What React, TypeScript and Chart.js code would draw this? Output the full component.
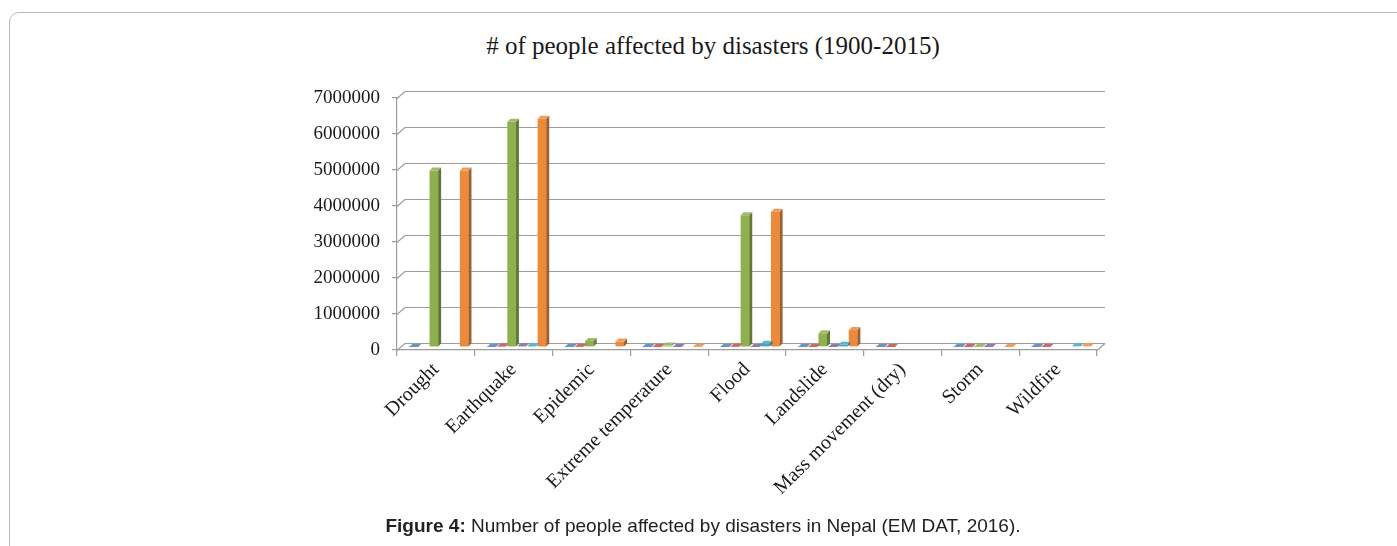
import React, { useEffect, useRef } from "react";
import { Chart, registerables } from "chart.js";

Chart.register(...registerables);

const chartTitle = "# of people affected by disasters (1900-2015)";

const categories = [
  "Drought",
  "Earthquake",
  "Epidemic",
  "Extreme temperature",
  "Flood",
  "Landslide",
  "Mass movement (dry)",
  "Storm",
  "Wildfire",
];

const seriesNames = ["Events", "Deaths", "Affected", "Injured", "Homeless", "Total affected"];
const seriesColors = ["#4F81BD", "#C0504D", "#8FB04F", "#8064A2", "#3FA6C2", "#EC8A3C"];

const events = [5, 8, 40, 10, 50, 80, 1, 5, 1];
const deaths = [0, 11000, 3500, 300, 6800, 1900, 2, 60, 2];
const affected = [4900000, 6260000, 170000, 40000, 3660000, 380000, 0, 900, 0];
const injured = [0, 22000, 0, 200, 500, 300, 0, 100, 0];
const homeless = [0, 30000, 0, 0, 90000, 60000, 0, 0, 20000];
const totalAffected = [4900000, 6340000, 150000, 8000, 3760000, 470000, 0, 1000, 25000];

const seriesValues = [events, deaths, affected, injured, homeless, totalAffected];

const yTickValues = [0, 1000000, 2000000, 3000000, 4000000, 5000000, 6000000, 7000000];

const DX = 8;
const DY = 7;
const BX = 3;
const BY = 3;
const SHIFT = 3;

function shade(hex: string, f: number) {
  const n = parseInt(hex.slice(1), 16);
  let r = (n >> 16) & 255, g = (n >> 8) & 255, b = n & 255;
  if (f < 1) {
    r = Math.round(r * f); g = Math.round(g * f); b = Math.round(b * f);
  } else {
    const t = f - 1;
    r = Math.round(r + (255 - r) * t); g = Math.round(g + (255 - g) * t); b = Math.round(b + (255 - b) * t);
  }
  return `rgb(${r},${g},${b})`;
}

const wallPlugin = {
  id: "wall3d",
  beforeDatasetsDraw(chart: any) {
    const { ctx, chartArea, scales } = chart;
    const { left, right, bottom } = chartArea;
    const y = scales.y;
    ctx.save();
    ctx.strokeStyle = "#9c9c9c";
    ctx.lineWidth = 1.2;
    yTickValues.forEach((v) => {
      const py = Math.round(y.getPixelForValue(v)) + 0.5;
      ctx.beginPath();
      ctx.moveTo(left, py);
      ctx.lineTo(left + DX, py - DY);
      ctx.lineTo(right + DX, py - DY);
      ctx.stroke();
    });
    ctx.beginPath();
    ctx.moveTo(right, bottom + 0.5);
    ctx.lineTo(right + DX, bottom - DY + 0.5);
    ctx.stroke();
    ctx.restore();
  },
  beforeDatasetDraw(chart: any) {
    chart.ctx.save();
    chart.ctx.translate(SHIFT, -SHIFT);
  },
  afterDatasetDraw(chart: any) {
    chart.ctx.restore();
  },
  afterDatasetsDraw(chart: any) {
    const { ctx } = chart;
    ctx.save();
    ctx.translate(SHIFT, -SHIFT);
    chart.data.datasets.forEach((ds: any, di: number) => {
      const meta = chart.getDatasetMeta(di);
      const color = seriesColors[di];
      meta.data.forEach((bar: any, i: number) => {
        const v = ds.data[i];
        if (!v) return;
        const { x, y, base, width } = bar.getProps(["x", "y", "base", "width"], true);
        const l = x - width / 2;
        const r = x + width / 2;
        ctx.fillStyle = shade(color, 0.68);
        ctx.beginPath();
        ctx.moveTo(r, base);
        ctx.lineTo(r + BX, base - BY);
        ctx.lineTo(r + BX, y - BY);
        ctx.lineTo(r, y);
        ctx.closePath();
        ctx.fill();
        ctx.fillStyle = shade(color, 1.15);
        ctx.beginPath();
        ctx.moveTo(l, y);
        ctx.lineTo(l + BX, y - BY);
        ctx.lineTo(r + BX, y - BY);
        ctx.lineTo(r, y);
        ctx.closePath();
        ctx.fill();
      });
    });
    ctx.restore();
  },
};

export default function App() {
  const canvasRef = useRef<HTMLCanvasElement | null>(null);

  useEffect(() => {
    if (!canvasRef.current) return;
    const chart = new Chart(canvasRef.current, {
      type: "bar",
      data: {
        labels: categories,
        datasets: seriesNames.map((name, i) => ({
          label: name,
          data: seriesValues[i],
          backgroundColor: seriesColors[i],
          borderWidth: 0,
          categoryPercentage: 0.78,
          barPercentage: 0.85,
        })),
      },
      options: {
        responsive: false,
        animation: false,
        layout: { padding: { left: 297, right: 300, top: 98, bottom: 0 } },
        plugins: {
          legend: { display: false },
          tooltip: { enabled: false },
          title: { display: false },
        },
        scales: {
          x: {
            grid: {
              display: true,
              drawOnChartArea: false,
              drawTicks: true,
              tickLength: 6,
              color: "#9c9c9c",
              lineWidth: 1.2,
              offset: true,
            },
            border: { display: true, color: "#9c9c9c", width: 1.2 },
            ticks: {
              minRotation: 45,
              maxRotation: 45,
              autoSkip: false,
              padding: 2,
              color: "#1a1a1a",
              font: { family: "'Liberation Serif', serif", size: 20 },
            },
            afterFit: (scale: any) => {
              scale.height = 196;
            },
          },
          y: {
            min: 0,
            max: 7000000,
            afterBuildTicks: (scale: any) => {
              scale.ticks = yTickValues.map((v) => ({ value: v }));
            },
            grid: {
              display: true,
              drawOnChartArea: false,
              drawTicks: true,
              tickLength: 5,
              color: "#9c9c9c",
              lineWidth: 1.2,
            },
            border: { display: true, color: "#9c9c9c", width: 1.2 },
            ticks: {
              padding: 12,
              color: "#1a1a1a",
              font: { family: "'Liberation Serif', serif", size: 19 },
              callback: (v: any) => String(v),
            },
            afterFit: (scale: any) => {
              scale.width = 100;
            },
          },
        },
      },
      plugins: [wallPlugin],
    });
    return () => chart.destroy();
  }, []);

  return (
    <div style={{ position: "fixed", left: 0, top: 0, width: 1397, height: 546, overflow: "hidden", background: "#fff" }}>
      <div
        style={{
          position: "absolute",
          left: 9,
          top: 12,
          width: 1500,
          height: 700,
          border: "1.5px solid #b8b8b8",
          borderRadius: 10,
          boxSizing: "border-box",
        }}
      />
      <div
        style={{
          position: "absolute",
          left: 313,
          width: 800,
          top: 31,
          textAlign: "center",
          fontFamily: "'Liberation Serif', serif",
          fontSize: 25,
          lineHeight: "30px",
          color: "#1a1a1a",
        }}
      >
        {chartTitle}
      </div>
      <canvas ref={canvasRef} width={1397} height={546} style={{ position: "absolute", left: 0, top: 0 }} />
      <div
        style={{
          position: "absolute",
          left: 0,
          width: 1406,
          top: 515,
          textAlign: "center",
          fontFamily: "'Liberation Sans', Arial, sans-serif",
          fontSize: 19,
          color: "#222",
        }}
      >
        <b>Figure 4:</b> Number of people affected by disasters in Nepal (EM DAT, 2016).
      </div>
    </div>
  );
}
